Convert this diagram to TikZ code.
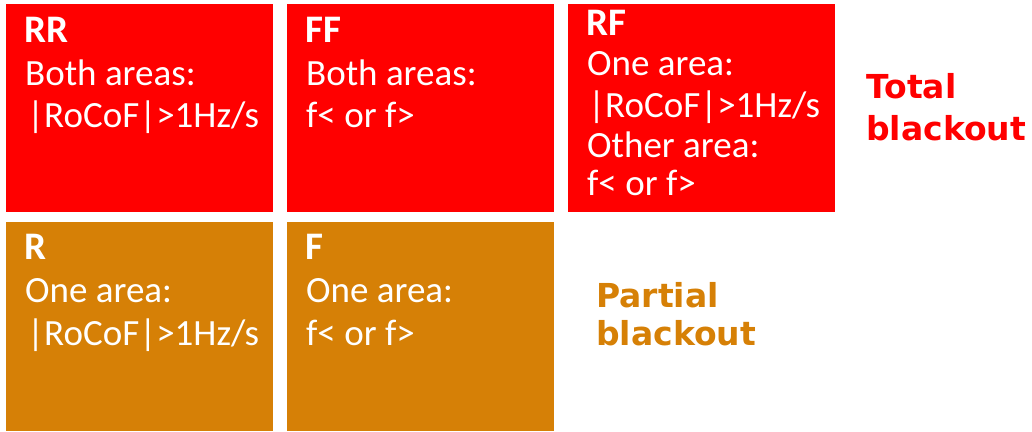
\documentclass[tikz,border=0pt]{standalone}
\usepackage{fontspec}
\setmainfont{Carlito}
\newfontfamily\labelfont{DejaVu Sans}
\definecolor{totalred}{RGB}{255,0,0}
\definecolor{partorange}{RGB}{214,128,6}
\tikzset{
  cell/.style={draw=none, inner sep=0pt, anchor=north west, minimum width=267pt, minimum height=208pt},
  redcell/.style={cell, fill=totalred},
  orangecell/.style={cell, fill=partorange},
  celltitle/.style={anchor=base west, inner sep=0pt, text=white, font=\fontsize{39}{39}\selectfont\bfseries},
  celltext/.style={anchor=base west, inner sep=0pt, text=white, font=\fontsize{37}{37}\selectfont},
  sidelabel/.style={anchor=base west, inner sep=0pt, font=\labelfont\fontsize{33}{33}\selectfont\bfseries}
}
\begin{document}
\begin{tikzpicture}[x=1pt, y=-1pt]
  \useasboundingbox (0,0) rectangle (1032,431);

  % top row: total blackout cases
  \node[redcell] (rr) at (6,4) {};
  \node[redcell] (ff) at (287,4) {};
  \node[redcell] (rf) at (568,4) {};
  % bottom row: partial blackout cases
  \node[orangecell, minimum height=209pt] (r) at (6,222) {};
  \node[orangecell, minimum height=209pt] (f) at (287,222) {};

  % RR
  \node[celltitle] (rrT) at (24,42) {RR};
  \node[celltext] (rr1) at (25,85) {Both areas:};
  \node[celltext] (rr2) at (27,127) {|RoCoF|>1Hz/s};
  % FF
  \node[celltitle] (ffT) at (305,42) {FF};
  \node[celltext] (ff1) at (306,85) {Both areas:};
  \node[celltext] (ff2) at (306,127) {f< or f>};
  % RF
  \node[celltitle] (rfT) at (586,35) {RF};
  \node[celltext] (rf1) at (587,75) {One area:};
  \node[celltext] (rf2) at (588,117) {|RoCoF|>1Hz/s};
  \node[celltext] (rf3) at (587,157) {Other area:};
  \node[celltext] (rf4) at (587,195) {f< or f>};
  % R
  \node[celltitle] (rT) at (24,259) {R};
  \node[celltext] (r1) at (25,302) {One area:};
  \node[celltext] (r2) at (27,345) {|RoCoF|>1Hz/s};
  % F
  \node[celltitle] (fT) at (305,259) {F};
  \node[celltext] (f1) at (306,302) {One area:};
  \node[celltext] (f2) at (306,345) {f< or f>};

  % row labels
  \node[sidelabel, text=totalred] (tot1) at (866,98) {Total};
  \node[sidelabel, text=totalred] (tot2) at (866,140) {blackout};
  \node[sidelabel, text=partorange] (par1) at (596,307) {Partial};
  \node[sidelabel, text=partorange] (par2) at (596,345) {blackout};
\end{tikzpicture}
\end{document}
